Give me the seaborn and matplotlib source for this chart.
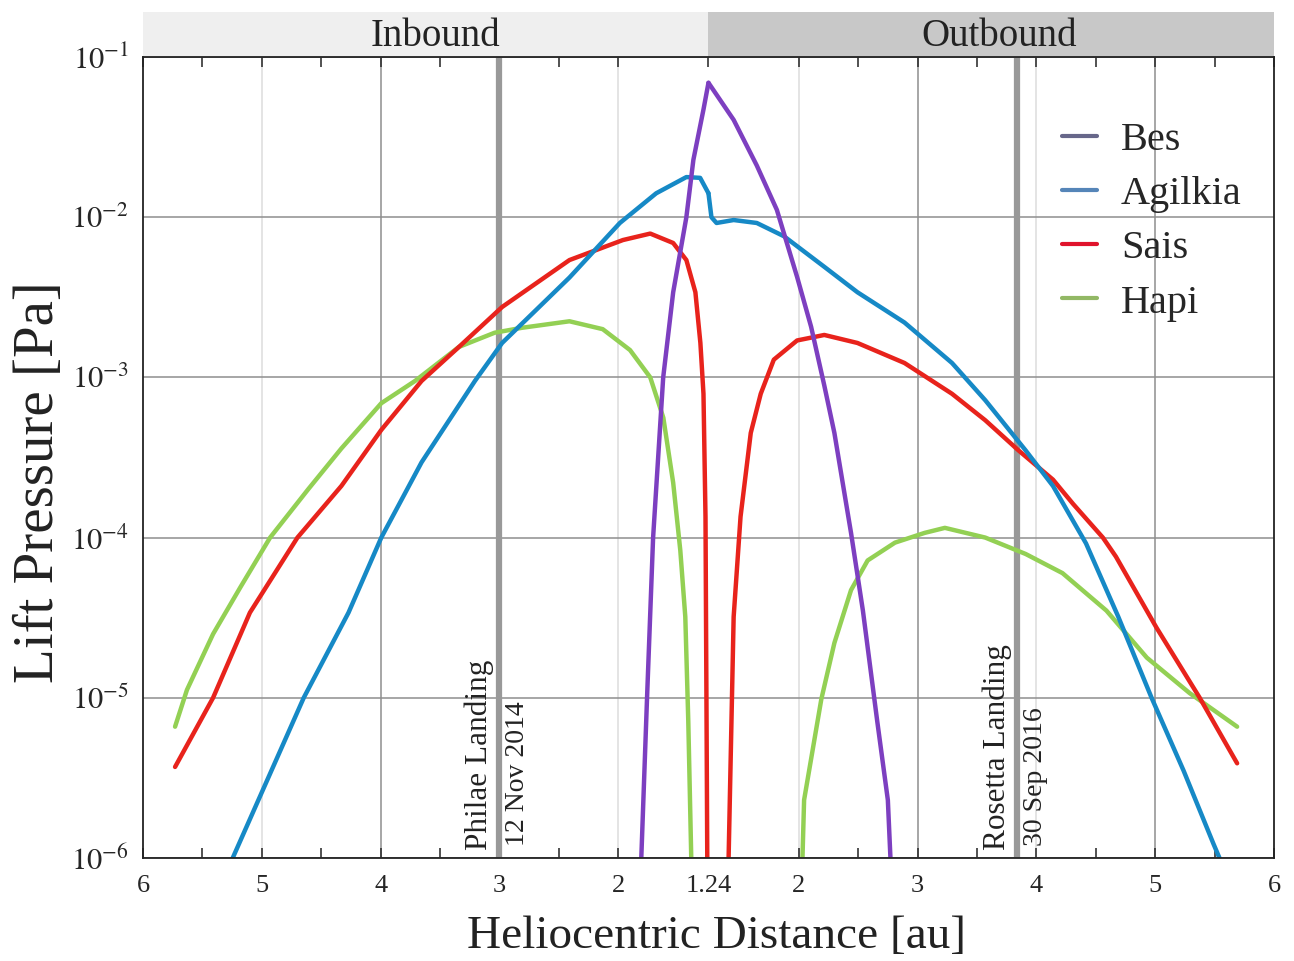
import pandas as pd
import seaborn as sns
import matplotlib.pyplot as plt
import matplotlib.transforms as mtransforms
from matplotlib.patches import Rectangle
from matplotlib.lines import Line2D

PERIHELION = 1.24

# heliocentric distance [au] and lift pressure [Pa], inbound / outbound legs
bes_in_r = [1.82, 1.757, 1.706, 1.621, 1.537, 1.426, 1.367, 1.282, 1.24]
bes_in_p = [5e-7, 1.0e-5, 1.0e-4, 1.0e-3, 3.4e-3, 1.0e-2, 2.28e-2, 4.7e-2, 6.9e-2]
bes_out_r = [1.24, 1.452, 1.647, 1.816, 1.876, 1.986, 2.104, 2.215, 2.30, 2.44, 2.54, 2.66,
             2.75, 2.79]
bes_out_p = [6.9e-2, 4.05e-2, 2.1e-2, 1.11e-2, 7.9e-3, 4.24e-3, 2.07e-3, 8.9e-4, 4.5e-4,
             1.07e-4, 3.5e-5, 7.2e-6, 2.3e-6, 5e-7]

agilkia_in_r = [5.33, 4.647, 4.27, 3.994, 3.655, 3.206, 2.977, 2.41, 1.986, 1.68, 1.426, 1.31,
                1.24]
agilkia_in_p = [7.2e-7, 1.0e-5, 3.4e-5, 1.0e-4, 2.95e-4, 9.5e-4, 1.64e-3, 4.2e-3, 9.2e-3,
                1.41e-2, 1.78e-2, 1.76e-2, 1.41e-2]
agilkia_out_r = [1.24, 1.265, 1.308, 1.452, 1.647, 1.876, 2.215, 2.494, 2.89, 3.29, 3.57, 3.91,
                 4.14, 4.418, 4.69, 4.97, 5.24, 5.49, 5.60]
agilkia_out_p = [1.41e-2, 1.0e-2, 9.2e-3, 9.6e-3, 9.2e-3, 7.6e-3, 4.9e-3, 3.4e-3, 2.2e-3,
                 1.23e-3, 7.2e-4, 3.5e-4, 2.1e-4, 9.2e-5, 3.2e-5, 1.0e-5, 3.5e-6, 1.23e-6,
                 7.9e-7]

sais_in_r = [5.73, 5.41, 5.10, 4.70, 4.33, 3.994, 3.655, 3.34, 2.977, 2.41, 1.96, 1.73, 1.537,
             1.426, 1.35, 1.308, 1.282, 1.265, 1.248]
sais_in_p = [3.7e-6, 1.0e-5, 3.4e-5, 1.0e-4, 2.1e-4, 4.7e-4, 9.5e-4, 1.55e-3, 2.75e-3, 5.4e-3,
             7.2e-3, 7.9e-3, 6.9e-3, 5.4e-3, 3.4e-3, 1.64e-3, 7.9e-4, 1.35e-4, 5e-7]
sais_out_r = [1.401, 1.452, 1.51, 1.596, 1.68, 1.79, 1.986, 2.215, 2.494, 2.89, 3.29, 3.57,
              3.85, 4.14, 4.31, 4.56, 4.67, 5.01, 5.375, 5.69]
sais_out_p = [5e-7, 3.2e-5, 1.35e-4, 4.5e-4, 7.9e-4, 1.29e-3, 1.7e-3, 1.84e-3, 1.64e-3,
              1.23e-3, 7.9e-4, 5.4e-4, 3.5e-4, 2.3e-4, 1.62e-4, 1.0e-4, 7.6e-5, 2.75e-5,
              1.0e-5, 3.9e-6]

hapi_in_r = [5.73, 5.63, 5.41, 5.18, 4.93, 4.61, 4.33, 3.994, 3.71, 3.34, 3.04, 2.81, 2.41,
             2.13, 1.90, 1.73, 1.62, 1.537, 1.477, 1.435, 1.41, 1.376]
hapi_in_p = [6.6e-6, 1.12e-5, 2.5e-5, 4.9e-5, 1.0e-4, 2.0e-4, 3.6e-4, 6.9e-4, 9.5e-4, 1.55e-3,
             1.9e-3, 2.04e-3, 2.24e-3, 2.0e-3, 1.48e-3, 1.0e-3, 5.6e-4, 2.2e-4, 8.3e-5, 3.2e-5,
             7.2e-6, 5e-7]
hapi_out_r = [2.02, 2.045, 2.19, 2.30, 2.44, 2.58, 2.81, 3.06, 3.23, 3.57, 3.91, 4.22, 4.59,
              4.93, 5.29, 5.69]
hapi_out_p = [5e-7, 2.3e-6, 9.8e-6, 2.2e-5, 4.7e-5, 7.2e-5, 9.3e-5, 1.07e-4, 1.15e-4, 1.0e-4,
              7.9e-5, 6.0e-5, 3.5e-5, 1.78e-5, 1.07e-5, 6.6e-6]

sites = ["Bes", "Agilkia", "Sais", "Hapi"]
colors = {"Bes": "#7d3fc0", "Agilkia": "#1689c6", "Sais": "#e8231c", "Hapi": "#93d054"}
legend_colors = {"Bes": "#67678a", "Agilkia": "#5585b8", "Sais": "#e0132c", "Hapi": "#92b865"}

x_tick_r = [6, 5, 4, 3, 2, 1.24, 2, 3, 4, 5, 6]
x_tick_labels = ["6", "5", "4", "3", "2", "1.24", "2", "3", "4", "5", "6"]
minor_r = [5.5, 4.5, 3.5, 2.5]
y_ticks = [1e-6, 1e-5, 1e-4, 1e-3, 1e-2, 1e-1]
y_tick_labels = [r"$10^{-6}$", r"$10^{-5}$", r"$10^{-4}$", r"$10^{-3}$", r"$10^{-2}$", r"$10^{-1}$"]

philae_r, philae_date = 3.0, "12 Nov 2014"
rosetta_r, rosetta_date = 3.84, "30 Sep 2016"


def pos(r, leg):
    # inbound on the left (negative), outbound on the right
    return (r - PERIHELION) * (-1 if leg == "in" else 1)


segments = {
    "Bes": (bes_in_r, bes_in_p, bes_out_r, bes_out_p),
    "Agilkia": (agilkia_in_r, agilkia_in_p, agilkia_out_r, agilkia_out_p),
    "Sais": (sais_in_r, sais_in_p, sais_out_r, sais_out_p),
    "Hapi": (hapi_in_r, hapi_in_p, hapi_out_r, hapi_out_p),
}
rows = []
for site, (ri, pi, ro, po) in segments.items():
    for r, p in zip(ri, pi):
        rows.append({"site": site, "leg": "in", "r": r, "p": p, "x": pos(r, "in")})
    for r, p in zip(ro, po):
        rows.append({"site": site, "leg": "out", "r": r, "p": p, "x": pos(r, "out")})
df = pd.DataFrame(rows)

sns.set_theme(style="white")
plt.rcParams["font.family"] = ["Liberation Serif", "DejaVu Serif"]
plt.rcParams["mathtext.fontset"] = "stix"

fig = plt.figure(figsize=(12.94, 9.61), dpi=100)
ax = fig.add_axes([0.1105, 0.1072, 0.874, 0.8335])

sns.lineplot(data=df, x="x", y="p", hue="site", hue_order=sites[::-1], units="leg",
             estimator=None, sort=False, palette=colors, linewidth=3.2, legend=False, ax=ax,
             solid_joinstyle="round", solid_capstyle="round")

ax.set_yscale("log")
ax.set_ylim(1e-6, 1e-1)
lim = 6 - PERIHELION
ax.set_xlim(-lim, lim)

major = [pos(r, "in") for r in x_tick_r[:6]] + [pos(r, "out") for r in x_tick_r[6:]]
minor = [pos(r, "in") for r in minor_r] + [pos(r, "out") for r in minor_r]
ax.set_xticks(major)
ax.set_xticklabels(x_tick_labels, fontsize=19)
ax.set_xticks(minor, minor=True)
ax.set_yticks(y_ticks)
ax.set_yticklabels(y_tick_labels, fontsize=22)
ax.yaxis.set_minor_locator(plt.NullLocator())
ax.tick_params(axis="x", which="both", direction="in", top=True, bottom=True, length=7,
               width=1.2, color="#333333", pad=12)
ax.tick_params(axis="y", which="both", length=0, pad=10)

ax.grid(True, which="major", axis="both", color="#8e8e8e", linewidth=1.1)
dark = {-2.76, 1.76, 3.76}
for line, t in zip(ax.get_xgridlines(), major):
    if abs(t) < 1e-9 or abs(abs(t) - lim) < 1e-9:
        line.set_visible(False)
    elif round(t, 2) not in dark:
        line.set_color("#dcdcdc")

for s in ax.spines.values():
    s.set_color("#222222")
    s.set_linewidth(1.3)

# mission events
trans = mtransforms.blended_transform_factory(ax.transData, ax.transAxes)
for r, leg, name, date in [(philae_r, "in", "Philae Landing", philae_date),
                           (rosetta_r, "out", "Rosetta Landing", rosetta_date)]:
    t = pos(r, leg)
    ax.axvline(t, color="#999999", linewidth=4.5, zorder=1.5)
    ax.annotate(name, xy=(t, 0.01), xycoords=trans, xytext=(-4, 0), textcoords="offset points",
                rotation=90, ha="right", va="bottom", fontsize=22.5, color="#222222")
    ax.annotate(date, xy=(t, 0.015), xycoords=trans, xytext=(4, 0), textcoords="offset points",
                rotation=90, ha="left", va="bottom", fontsize=20, color="#222222")

# inbound / outbound band
ax.add_patch(Rectangle((-lim, 1.0), lim, 0.056, transform=trans, clip_on=False,
                       facecolor="#efefef", edgecolor="none"))
ax.add_patch(Rectangle((0, 1.0), lim, 0.056, transform=trans, clip_on=False,
                       facecolor="#c8c8c8", edgecolor="none"))
ax.text(-2.30, 1.026, "Inbound", transform=trans, ha="center", va="center", fontsize=28,
        color="#222222")
ax.text(2.45, 1.026, "Outbound", transform=trans, ha="center", va="center", fontsize=28,
        color="#222222")

ax.set_xlabel("Heliocentric Distance [au]", fontsize=34, color="#222222")
ax.set_ylabel("Lift Pressure [Pa]", fontsize=41, color="#222222")
ax.xaxis.set_label_coords(0.5075, -0.072)
ax.yaxis.set_label_coords(-0.069, 0.469)

handles = [Line2D([], [], color=legend_colors[s], linewidth=3) for s in sites]
fig.legend(handles, sites, loc="upper left", bbox_to_anchor=(0.821, 0.873), frameon=False,
           fontsize=29, handlelength=0.85, handletextpad=0.6, labelspacing=0.42,
           borderpad=0, borderaxespad=0)

fig.savefig("out.png", dpi=100)
